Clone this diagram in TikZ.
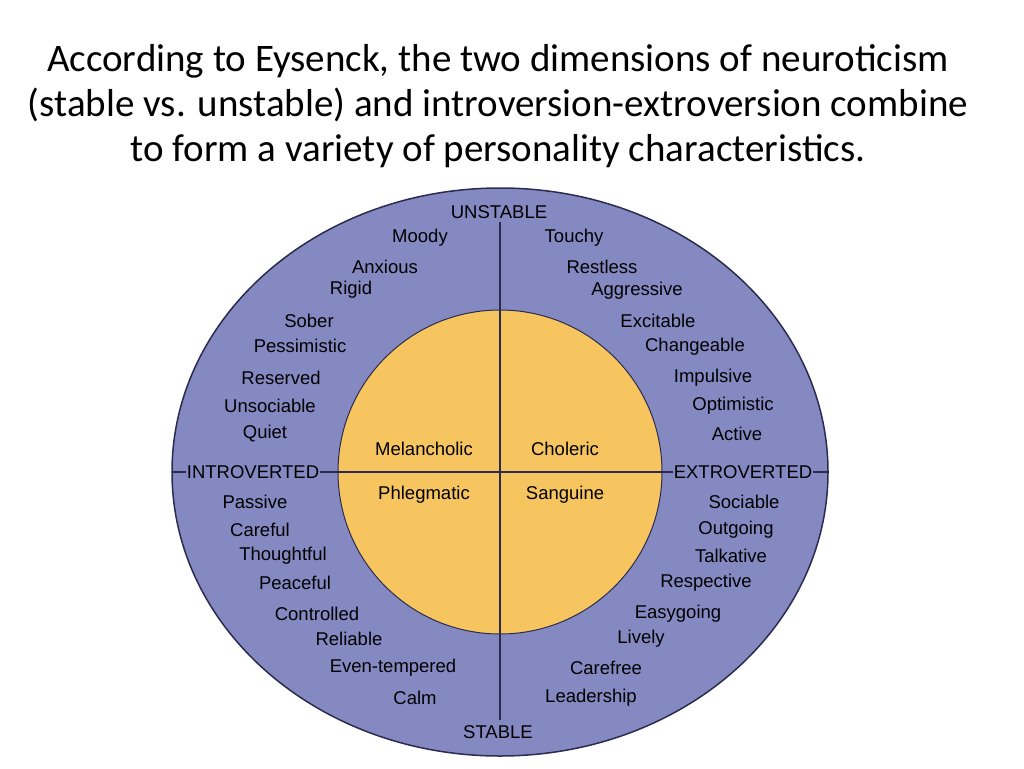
\documentclass[tikz,border=0pt]{standalone}
\usepackage{fontspec}
\usetikzlibrary{shapes.geometric}
\setmainfont{Carlito}
\newfontfamily\lab{Liberation Sans}
\begin{document}
\begin{tikzpicture}[x=1pt,y=-1pt,
  lb/.style={font=\lab\fontsize{18.5}{20}\selectfont, text=black, inner sep=1pt},
  ax/.style={lb, fill=outer},
  ttl/.style={font=\fontsize{39}{45}\selectfont, align=center}]
\definecolor{outer}{HTML}{8589C2}
\definecolor{inner}{HTML}{F7C55F}
\definecolor{edge}{HTML}{2B2B4F}
\useasboundingbox (0,0) rectangle (1024,768);
\fill[white] (0,0) rectangle (1024,768);
\node[ttl] (title) at (498,106) {According to Eysenck, the two dimensions of neuroticism\\(stable vs. unstable) and introversion-extroversion combine\\to form a variety of personality characteristics.};
\node[ellipse,draw=edge,line width=1.5pt,fill=outer,minimum width=656,minimum height=568,inner sep=0] (big) at (500,472) {};
\node[circle,draw=edge,line width=1pt,fill=inner,minimum size=324,inner sep=0] (small) at (500,472) {};
\coordinate (t) at (500,222); \coordinate (b) at (500,720);
\coordinate (l) at (172,472); \coordinate (r) at (828,472);
\draw[edge,line width=1.2pt] (t) -- (b);
\draw[edge,line width=1.2pt] (l) -- (r);
\node[ax] (un) at (499,212) {UNSTABLE};
\node[ax] (st) at (498,732) {STABLE};
\node[ax] (in) at (253,472) {INTROVERTED};
\node[ax] (ex) at (743,472) {EXTROVERTED};
\foreach \n/\x/\y/\t in {a/420/238/Moody,b/574/238/Touchy,c/385/267/Anxious,d/602/267/Restless,e/351/290/Rigid,f/637/291/Aggressive,g/309/321/Sober,h/658/321/Excitable,i/300/346/Pessimistic,j/695/347/Changeable,k/281/378/Reserved,l/713/378/Impulsive,m/270/406/Unsociable,n/733/406/Optimistic,o/265/434/Quiet,p/737/434/Active,q/424/449/Melancholic,r/565/449/Choleric,s/424/495/Phlegmatic,u/565/495/Sanguine,v/255/502/Passive,w/744/502/Sociable,x/260/530/Careful,y/736/530/Outgoing,z/283/556/Thoughtful,aa/731/556/Talkative,ab/295/583/Peaceful,ac/706/583/Respective,ad/317/614/Controlled,ae/678/614/Easygoing,af/349/639/Reliable,ag/641/639/Lively,ah/393/668/Even-tempered,ai/606/668/Carefree,aj/415/698/Calm,ak/591/698/Leadership}
  \node[lb] (w\n) at (\x,\y) {\t};
\end{tikzpicture}
\end{document}
